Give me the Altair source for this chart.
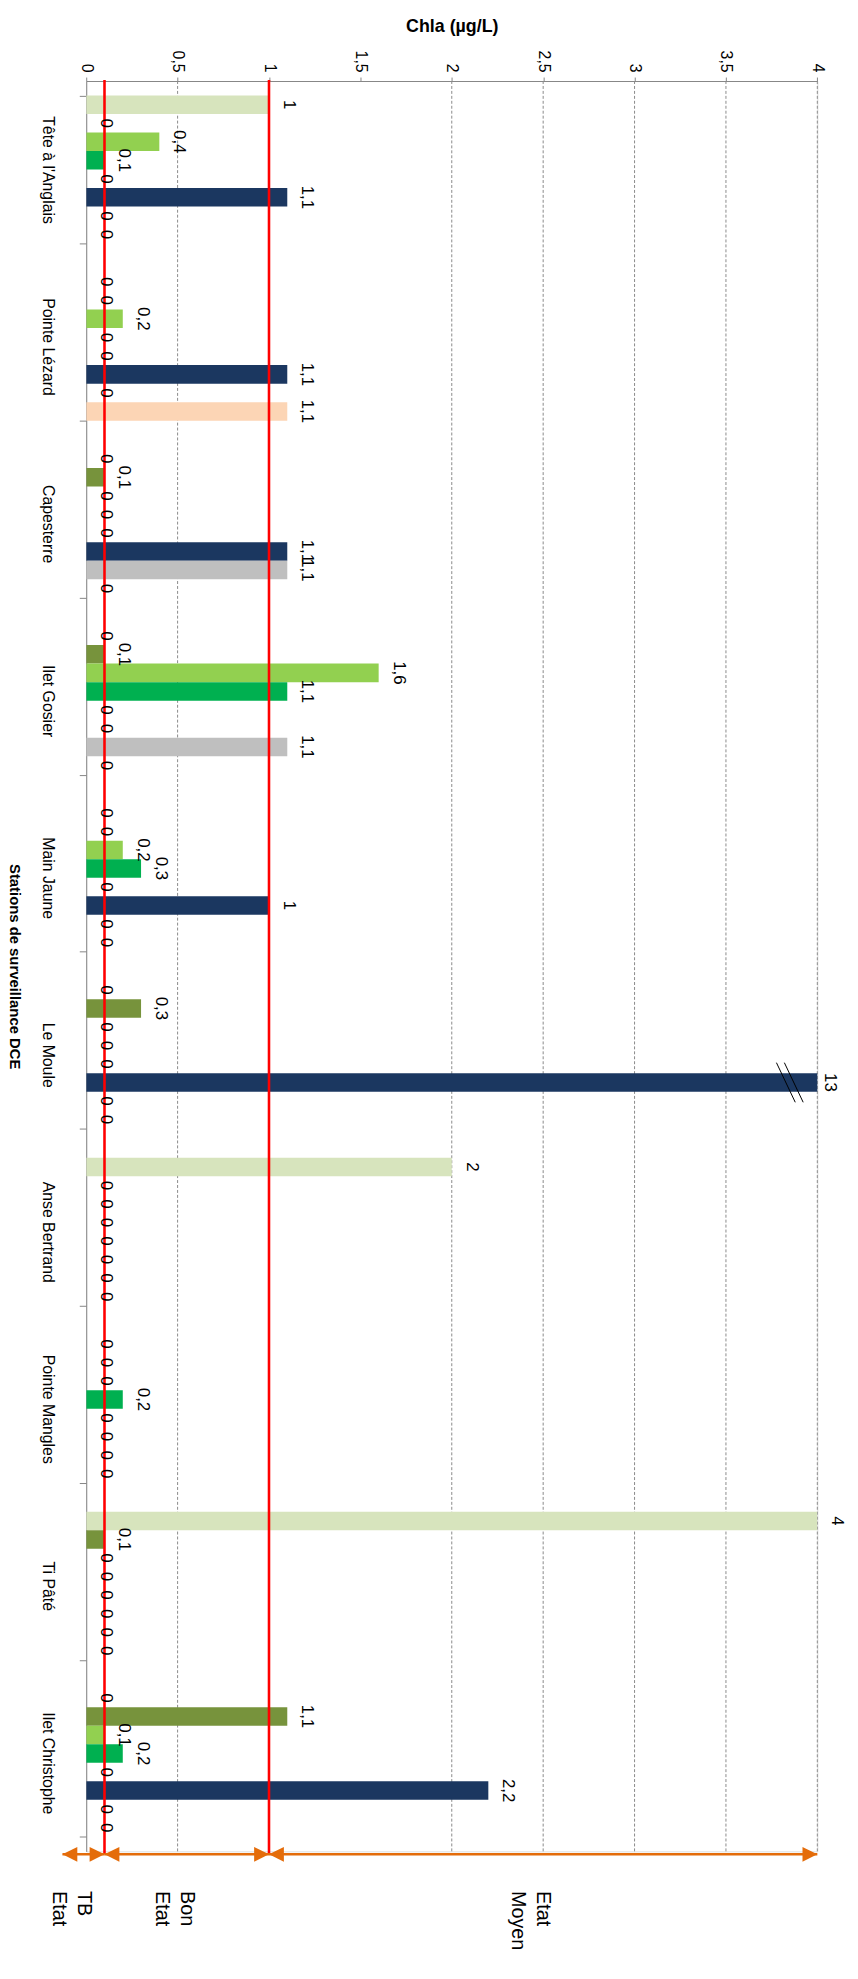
import altair as alt
import pandas as pd

# ---------------- data ----------------
STATIONS = ["Tête à l'Anglais", "Pointe Lézard", "Capesterre", "Ilet Gosier", "Main Jaune",
            "Le Moule", "Anse Bertrand", "Pointe Mangles", "Ti Pâté", "Ilet Christophe"]

SERIES = ["S1", "S2", "S3", "S4", "S5", "S6", "S7", "S8"]
COLORS = ["#D7E4BD", "#77933C", "#92D050", "#00B050", "#4F81BD", "#1B3760", "#BFBFBF", "#FCD5B5"]

S1 = [1, 0, 0, 0, 0, 0, 2, 0, 4, 0]
S2 = [0, 0, 0.1, 0.1, 0, 0.3, 0, 0, 0.1, 1.1]
S3 = [0.4, 0.2, 0, 1.6, 0.2, 0, 0, 0, 0, 0.1]
S4 = [0.1, 0, 0, 1.1, 0.3, 0, 0, 0.2, 0, 0.2]
S5 = [0, 0, 0, 0, 0, 0, 0, 0, 0, 0]
S6 = [1.1, 1.1, 1.1, 0, 1, 13, 0, 0, 0, 2.2]
S7 = [0, 0, 1.1, 1.1, 0, 0, 0, 0, 0, 0]
S8 = [0, 1.1, 0, 0, 0, 0, 0, 0, 0, 0]
VALUES = [S1, S2, S3, S4, S5, S6, S7, S8]

X_TICKS = [0, 0.5, 1, 1.5, 2, 2.5, 3, 3.5, 4]
GRID = [0.5, 1, 2, 2.5, 3, 3.5, 4]
THRESHOLDS = [0.1, 1.0]
X_MAX = 4

ZONE_LABELS = [["TB", "Etat"], ["Bon", "Etat"], ["Etat", "Moyen"]]
ZONE_START = [-0.13, 0.1, 1.0]
ZONE_END = [0.1, 1.0, 4.0]

BREAK_STATION = "Le Moule"
BREAK_SERIE = "S6"
BREAK_AT = 3.85

# ---------------- tables ----------------
rows = []
for name, vals in zip(SERIES, VALUES):
    for st, v in zip(STATIONS, vals):
        rows.append({"station": st, "serie": name, "value": v})
df = pd.DataFrame(rows)

zones = pd.DataFrame({"start": ZONE_START, "end": ZONE_END})
zone_text = alt.Data(values=[{"lines": l, "start": s, "end": e}
                             for l, s, e in zip(ZONE_LABELS, ZONE_START, ZONE_END)])

W = 738.4
H = 1788
ORANGE = "#E46C0A"
NARROW = "Liberation Sans Narrow, Arial Narrow, Liberation Sans, sans-serif"
SANS = "Liberation Sans, Arial, sans-serif"

y_axis = alt.Axis(
    title="Stations de surveillance DCE", titleAngle=90, titleBaseline="top", titleX=-65,
    titleFont=NARROW, titleFontSize=15, titleFontWeight="bold", titleColor="black",
    labelAngle=90, labelAlign="center", labelBaseline="top", labelPadding=24,
    labelFont=NARROW, labelFontSize=16, labelColor="black",
    tickBand="extent", tickSize=7, tickColor="#868686", domainColor="#868686", grid=False,
)
x_axis = alt.Axis(
    orient="top", values=X_TICKS, title="Chla (µg/L)", titleFont=SANS, titleFontSize=18,
    titleFontWeight="bold", titleColor="black", titleY=-50, titleBaseline="alphabetic",
    labelAngle=90, labelAlign="right", labelBaseline="middle", labelPadding=5, labelFlush=False,
    labelOverlap=False, labelBound=False,
    labelExpr="replace(format(datum.value, '~g'), '.', ',')",
    labelFont=SANS, labelFontSize=16, labelColor="black",
    tickSize=4, tickColor="#868686", domainColor="#868686", grid=False,
)

x_scale = alt.Scale(domain=[0, X_MAX], nice=False, zero=False)


def X(field):
    return alt.X(field, scale=x_scale, axis=x_axis)


def Y():
    return alt.Y("station:N", sort=STATIONS, axis=y_axis,
                 scale=alt.Scale(paddingInner=0.163, paddingOuter=0.0817))


def YOFF():
    return alt.YOffset("serie:N", sort=SERIES, scale=alt.Scale(paddingInner=0, paddingOuter=0))


base = alt.Chart(df)

bars = base.mark_bar(clip=True).encode(
    x=X("value:Q"),
    y=Y(),
    yOffset=YOFF(),
    color=alt.Color("serie:N", scale=alt.Scale(domain=SERIES, range=COLORS), legend=None),
)

grid = alt.Chart(pd.DataFrame({"g": GRID})).mark_rule(
    color="#8A8A8A", strokeWidth=1, strokeDash=[3, 2]
).encode(x=X("g:Q"))

labels = base.transform_filter(f"datum.value <= {X_MAX}").transform_calculate(
    label="replace(format(datum.value, '~g'), '.', ',')"
).mark_text(angle=90, align="center", baseline="alphabetic", dy=-15,
            font=NARROW, fontSize=17, color="black").encode(
    x=X("value:Q"), y=Y(), yOffset=YOFF(), text="label:N",
)

big = base.transform_filter(f"datum.value > {X_MAX}").transform_calculate(
    xpos=f"min(datum.value, {X_MAX})", label="format(datum.value, '~g')"
).mark_text(angle=90, align="center", baseline="alphabetic", dy=-8,
            font=SANS, fontSize=17, color="black").encode(
    x=X("xpos:Q"), y=Y(), yOffset=YOFF(), text="label:N",
)

brk = alt.Chart(pd.DataFrame({"station": [BREAK_STATION], "serie": [BREAK_SERIE], "x": [BREAK_AT]})).mark_point(
    shape="M-0.68,-1L0.27,1M-0.28,-1L0.67,1", size=1600, filled=False, stroke="black", strokeWidth=1, opacity=1
).encode(x=X("x:Q"), y=Y(), yOffset=YOFF())

red = alt.Chart(pd.DataFrame({"t": THRESHOLDS})).mark_rule(color="#FF0000", strokeWidth=2.6).encode(
    x=X("t:Q"), y=alt.value(-1), y2=alt.value(H + 3)
)

arrow_line = alt.Chart(zones).mark_rule(color=ORANGE, strokeWidth=2.5).encode(
    x=X("start:Q"), x2="end:Q", y=alt.value(H + 3)
)
head_left = alt.Chart(zones).mark_point(
    shape="M0,0L1,-0.5L1,0.5Z", size=900, filled=True, color=ORANGE, opacity=1, strokeWidth=0
).encode(x=X("start:Q"), y=alt.value(H + 3))
head_right = alt.Chart(zones).mark_point(
    shape="M0,0L-1,-0.5L-1,0.5Z", size=900, filled=True, color=ORANGE, opacity=1, strokeWidth=0
).encode(x=X("end:Q"), y=alt.value(H + 3))

zone_lbl = alt.Chart(zone_text).transform_calculate(
    mid="(datum.start + datum.end) / 2"
).mark_text(angle=90, align="left", baseline="middle", font=SANS, fontSize=20,
            lineHeight=25, color="black").encode(
    x=X("mid:Q"), y=alt.value(H + 40), text="lines:N"
)

chart = alt.layer(
    grid, bars, red, labels, big, brk, arrow_line, head_left, head_right, zone_lbl
).properties(
    width=W, height=H, autosize="none",
    padding={"left": 79, "top": 64, "right": 33, "bottom": 102},
).configure_view(stroke=None).configure(background="white")

chart.save("out.html", embed_options={"renderer": "svg", "actions": False})
